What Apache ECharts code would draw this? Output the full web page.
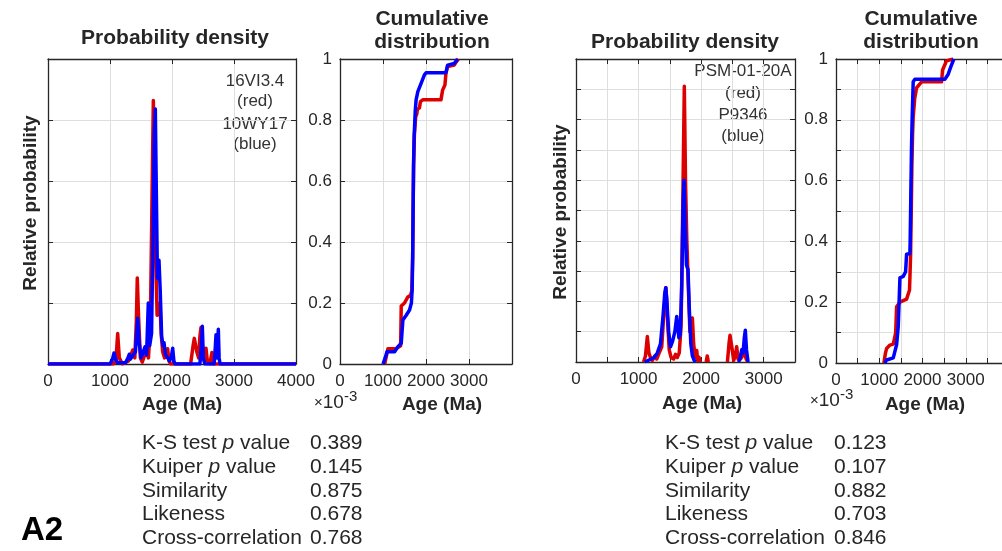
<!DOCTYPE html>
<html>
<head>
<meta charset="utf-8">
<script src="https://cdn.jsdelivr.net/npm/echarts@6/dist/echarts.min.js"></script>
<style>
html,body{margin:0;padding:0;background:#fff;}
#chart{width:1002px;height:551px;}
</style>
</head>
<body>
<div id="chart"></div>
<script>
// ---------- DATA ----------
// Left pair: 16VI3.4 (red) vs 10WY17 (blue); probability density (x10^-3) vs age (Ma)
const leftPdpRed = [[0,0],[1050,0],[1095,0.05],[1124,0.5],[1150,0.1],[1200,0],[1300,0.05],[1340,0.15],[1366,0.23],[1400,0.1],[1425,0.7],[1440,1.41],[1460,0.8],[1490,0.1],[1520,0.03],[1560,0.15],[1590,0.2],[1620,0.1],[1650,0.6],[1675,2.5],[1699,4.32],[1715,3.5],[1735,1.8],[1760,0.8],[1785,0.9],[1806,1.0],[1825,0.5],[1850,0.2],[1880,0.1],[1910,0.15],[1930,0.25],[1950,0.05],[1980,0],[2300,0],[2340,0.3],[2360,0.42],[2400,0.2],[2430,0.1],[2450,0.45],[2468,0.6],[2490,0.3],[2520,0.05],[2548,0.26],[2570,0.05],[2610,0],[2645,0.19],[2665,0],[4000,0]];
const leftPdpBlue = [[0,0],[1000,0],[1040,0.08],[1065,0.18],[1090,0.08],[1120,0.02],[1250,0.02],[1290,0.1],[1311,0.16],[1330,0.08],[1360,0.05],[1410,0.2],[1446,0.75],[1470,0.35],[1500,0.1],[1530,0.08],[1565,0.28],[1590,0.15],[1618,1.0],[1640,0.3],[1670,0.5],[1700,2.5],[1715,3.8],[1731,4.18],[1745,3.0],[1765,1.4],[1790,1.7],[1810,1.2],[1833,0.45],[1855,0.3],[1871,0.35],[1895,0.15],[1930,0.1],[1960,0.05],[1990,0.12],[2011,0.26],[2030,0.05],[2050,0],[2450,0],[2475,0.3],[2489,0.62],[2505,0.1],[2530,0],[2680,0],[2700,0.3],[2710,0.48],[2725,0.1],[2735,0.2],[2747,0.57],[2760,0.1],[2775,0],[4000,0]];
const leftCdfRed = [[1039,0],[1100,0.04],[1116,0.05],[1300,0.05],[1410,0.06],[1424,0.19],[1500,0.2],[1540,0.205],[1578,0.22],[1640,0.225],[1670,0.24],[1690,0.35],[1700,0.5],[1712,0.65],[1730,0.75],[1760,0.81],[1786,0.82],[1800,0.835],[1848,0.84],[1870,0.86],[1924,0.866],[2348,0.866],[2386,0.898],[2440,0.915],[2464,0.953],[2502,0.975],[2656,0.98],[2700,0.99],[2756,1.0]];
const leftCdfBlue = [[1000,0],[1050,0.02],[1093,0.04],[1270,0.04],[1347,0.057],[1424,0.068],[1462,0.144],[1540,0.16],[1617,0.177],[1660,0.2],[1678,0.243],[1690,0.35],[1700,0.5],[1710,0.65],[1725,0.75],[1750,0.83],[1770,0.866],[1810,0.893],[1886,0.92],[1963,0.948],[2001,0.955],[2463,0.955],[2502,0.98],[2656,0.985],[2733,1.0]];
// Right pair: PSM-01-20A (red) vs P9346 (blue)
const rightPdpRed = [[1080,0],[1110,0.2],[1140,0.84],[1165,0.3],[1190,0.15],[1220,0.05],[1260,0.2],[1290,0.1],[1330,0.3],[1370,0.5],[1410,1.8],[1438,2.45],[1460,1.5],[1490,0.4],[1520,0.15],[1560,0.1],[1590,0.25],[1620,0.15],[1650,0.3],[1680,1.2],[1705,5.0],[1731,9.1],[1750,6.0],[1770,4.1],[1795,2.5],[1820,1.0],[1845,1.0],[1860,1.45],[1880,0.6],[1905,0.15],[1929,0.38],[1945,0.05],[1965,0.16],[1985,0],[2030,null],[2080,0],[2098,0.2],[2115,0],[2300,null],[2420,0],[2445,0.6],[2461,0.88],[2490,0.5],[2520,0.05],[2545,0.2],[2568,0.5],[2590,0.1],[2630,0.1],[2660,0.2],[2690,0.3],[2720,0.1],[2745,0]];
const rightPdpBlue = [[1100,0],[1150,0.05],[1200,0.1],[1250,0.15],[1300,0.3],[1350,0.6],[1390,1.5],[1420,2.3],[1434,2.45],[1450,2.1],[1480,1.0],[1510,0.5],[1545,0.7],[1580,1.0],[1610,1.5],[1626,1.55],[1645,0.8],[1665,0.9],[1690,2.5],[1710,5.0],[1726,6.0],[1745,4.5],[1765,3.2],[1790,3.05],[1810,1.8],[1835,0.6],[1860,0.2],[1890,0.05],[1910,0],[2200,null],[2600,0],[2625,0.15],[2648,0.4],[2670,0.3],[2690,0.8],[2706,1.05],[2725,0.4],[2750,0]];
const rightCdfRed = [[1108,0],[1140,0.03],[1170,0.048],[1247,0.059],[1324,0.062],[1380,0.1],[1401,0.185],[1478,0.2],[1632,0.21],[1700,0.24],[1724,0.35],[1740,0.5],[1755,0.65],[1770,0.75],[1785,0.81],[1820,0.87],[1863,0.905],[1979,0.925],[2441,0.925],[2464,0.964],[2556,0.994],[2710,1.0]];
const rightCdfBlue = [[1131,0],[1170,0.01],[1324,0.017],[1401,0.06],[1439,0.12],[1478,0.28],[1555,0.285],[1609,0.3],[1632,0.358],[1709,0.36],[1715,0.4],[1730,0.55],[1745,0.7],[1760,0.8],[1785,0.925],[1824,0.933],[2517,0.933],[2594,0.95],[2656,0.975],[2725,1.0]];

const sampleLabelsLeft = ['16VI3.4','(red)','10WY17','(blue)'];
const sampleLabelsRight = ['PSM-01-20A','(red)','P9346','(blue)'];
const statNames = ['K-S test {i|p} value','Kuiper {i|p} value','Similarity','Likeness','Cross-correlation'];
const statsLeft = ['0.389','0.145','0.875','0.678','0.768'];
const statsRight = ['0.123','0.107','0.882','0.703','0.846'];
const cdfYLabels = ['0','0.2','0.4','0.6','0.8','1'];

// ---------- STYLE ----------
const AX = '#262626', GRID = '#dedede', RED = '#dd0000', BLUE = '#0000ff';
const FONT = 'Liberation Sans, Arial, Helvetica, sans-serif';

const grids = [
  {left:48, top:59, width:248, height:305, outerBoundsMode:'none', containLabel:false},
  {left:340, top:59, width:172, height:305, outerBoundsMode:'none', containLabel:false},
  {left:576, top:59, width:219, height:303, outerBoundsMode:'none', containLabel:false},
  {left:836, top:59, width:173, height:304, outerBoundsMode:'none', containLabel:false}
];
const xCfg = [
  {max:4000, interval:1000, fmt:v=>String(v)},
  {max:4000, interval:1000, fmt:v=>v===4000?'':String(v)},
  {max:3500, interval:500, fmt:v=>v%1000===0?String(v):''},
  {max:4000, interval:500, fmt:v=>(v%1000===0&&v<4000)?String(v):''}
];
const yCfg = [
  {max:5, interval:1, fmt:null},
  {max:1, interval:0.2, fmt:v=>{const s=+v.toFixed(1);return cdfYLabels.includes(String(s))?String(s):'';}},
  {max:10, interval:1, fmt:null},
  {max:1, interval:0.1, fmt:v=>{const s=+v.toFixed(1);return (Math.round(s*10)%2===0)?String(s):'';}}
];

const xAxes = [], yAxes = [];
grids.forEach((g,i)=>{
  const xc = xCfg[i], yc = yCfg[i];
  xAxes.push({type:'value', gridIndex:i, position:'bottom', min:0, max:xc.max, interval:xc.interval,
    axisLine:{show:true, onZero:false, lineStyle:{color:AX, width:1.3}},
    axisTick:{show:true, inside:true, length:5, lineStyle:{color:AX}},
    axisLabel:{show:true, formatter:xc.fmt, color:AX, fontSize:17, fontFamily:FONT, margin:9, showMaxLabel:true, showMinLabel:true, hideOverlap:false},
    splitLine:{show:true, lineStyle:{color:GRID, width:1}}});
  xAxes.push({type:'value', gridIndex:i, position:'top', min:0, max:xc.max, interval:xc.interval,
    axisLine:{show:true, onZero:false, lineStyle:{color:AX, width:1.3}},
    axisTick:{show:true, inside:true, length:5, lineStyle:{color:AX}},
    axisLabel:{show:false}, splitLine:{show:false}});
  yAxes.push({type:'value', gridIndex:i, position:'left', min:0, max:yc.max, interval:yc.interval,
    axisLine:{show:true, onZero:false, lineStyle:{color:AX, width:1.3}},
    axisTick:{show:true, inside:true, length:5, lineStyle:{color:AX}},
    axisLabel:yc.fmt?{show:true, formatter:yc.fmt, color:AX, fontSize:17, fontFamily:FONT, margin:8}:{show:false},
    splitLine:{show:true, lineStyle:{color:GRID, width:1}}});
  yAxes.push({type:'value', gridIndex:i, position:'right', min:0, max:yc.max, interval:yc.interval,
    axisLine:{show:true, onZero:false, lineStyle:{color:AX, width:1.3}},
    axisTick:{show:true, inside:true, length:5, lineStyle:{color:AX}},
    axisLabel:{show:false}, splitLine:{show:false}});
});

function line(data, color, gi){
  return {type:'line', data:data, xAxisIndex:gi*2, yAxisIndex:gi*2, showSymbol:false, symbol:'none',
    connectNulls:false, lineStyle:{color:color, width:3.5, join:'round'}, itemStyle:{color:color}, z:color===BLUE?3:2, animation:false, clip:true};
}
const series = [
  line(leftPdpRed, RED, 0), line(leftPdpBlue, BLUE, 0),
  line(leftCdfRed, RED, 1), line(leftCdfBlue, BLUE, 1),
  line(rightPdpRed, RED, 2), line(rightPdpBlue, BLUE, 2),
  line(rightCdfRed, RED, 3), line(rightCdfBlue, BLUE, 3)
];

// ---------- TEXT ----------
const graphic = [];
function txt(x,y,text,opts){
  graphic.push({type:'text', x:x, y:y, silent:true,
    style:Object.assign({text:text, fill:AX, font:'17px '+FONT, textAlign:'center', textVerticalAlign:'middle'}, opts||{})});
}
function titleBold(x,y,t){ txt(x,y,t,{font:'bold 21px '+FONT}); }
titleBold(175,38,'Probability density');
titleBold(685,42,'Probability density');
titleBold(432,19,'Cumulative'); titleBold(432,42,'distribution');
titleBold(921,19,'Cumulative'); titleBold(921,42,'distribution');

// axis names
[[182,405],[442,405],[702,404],[925,405]].forEach(p=>txt(p[0],p[1],'Age (Ma)',{font:'bold 19px '+FONT}));
graphic.push({type:'text', x:31, y:203, rotation:Math.PI/2, silent:true,
  style:{text:'Relative probability', fill:AX, font:'bold 19px '+FONT, textAlign:'center', textVerticalAlign:'middle'}});
graphic.push({type:'text', x:561, y:212, rotation:Math.PI/2, silent:true,
  style:{text:'Relative probability', fill:AX, font:'bold 19px '+FONT, textAlign:'center', textVerticalAlign:'middle'}});

// sample labels
const yL = [81,101,124,144], yR = [71,93,115,136];
sampleLabelsLeft.forEach((t,i)=>txt(255,yL[i],t,{fill:'#333'}));
sampleLabelsRight.forEach((t,i)=>txt(743,yR[i],t,{fill:'#333'}));

// x10^-3
function expo(x,y){
  graphic.push({type:'text', x:x, y:y, silent:true, style:{
    text:'{m|×}{b|10}{s|-3}', textAlign:'left', textVerticalAlign:'middle',
    rich:{m:{font:'15px '+FONT, fill:AX}, b:{font:'19px '+FONT, fill:AX}, s:{font:'15px '+FONT, fill:AX, padding:[0,0,12,0]}}
  }});
}
expo(314,403); expo(810,401);

// stats
const statY = [443,467,491,514,538];
function stats(xl, xv, vals){
  statNames.forEach((n,i)=>{
    graphic.push({type:'text', x:xl, y:statY[i], silent:true, style:{
      text:n, textAlign:'left', textVerticalAlign:'middle', font:'21px '+FONT, fill:AX,
      rich:{i:{font:'italic 21px '+FONT, fill:AX}}}});
    graphic.push({type:'text', x:xv, y:statY[i], silent:true, style:{
      text:vals[i], textAlign:'left', textVerticalAlign:'middle', font:'21px '+FONT, fill:AX}});
  });
}
stats(142,310,statsLeft);
stats(665,834,statsRight);
txt(42,531,'A2',{font:'bold 33px '+FONT, fill:'#000'});

const chart = echarts.init(document.getElementById('chart'), null, {renderer:'canvas'});
chart.setOption({
  animation:false,
  backgroundColor:'#fff',
  grid: grids,
  xAxis: xAxes,
  yAxis: yAxes,
  series: series,
  graphic: graphic
});
</script>
</body>
</html>
